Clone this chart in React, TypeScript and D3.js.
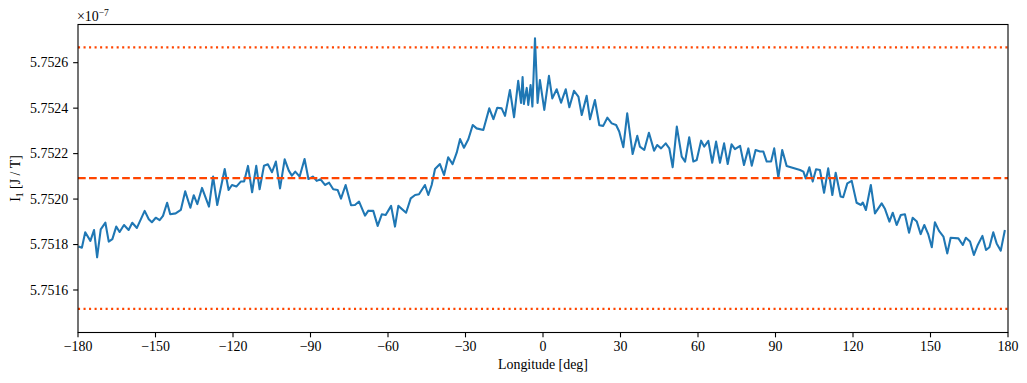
import React from "react";
import * as d3 from "d3";

const longitudes: number[] = [
  -179.8, -178.5, -177.2, -175.2, -173.8, -172.6, -171.2, -169.4, -168.1, -166.7,
  -165.2, -163.9, -162.2, -160.4, -159.0, -157.2, -154.2, -152.6, -151.4, -149.9,
  -148.4, -147.1, -145.5, -144.3, -142.2, -140.2, -138.5, -136.5, -135.2, -133.8,
  -132.0, -129.3, -127.7, -126.1, -123.2, -121.7, -120.4, -118.7, -117.0, -115.7,
  -114.2, -112.6, -111.0, -109.7, -108.0, -106.5, -104.9, -103.4, -101.8, -100.0,
  -98.4, -97.2, -95.9, -94.2, -92.3, -90.8, -89.1, -87.6, -86.1, -84.4,
  -82.8, -81.2, -79.5, -78.2, -76.4, -74.3, -72.8, -71.2, -68.9, -67.6,
  -65.7, -64.0, -62.4, -60.9, -58.8, -57.3, -56.0, -53.0, -51.2, -49.5,
  -48.0, -45.7, -44.4, -43.1, -41.8, -39.9, -38.3, -36.7, -35.0, -33.4,
  -32.1, -30.6, -28.9, -27.2, -25.7, -23.1, -20.8, -19.2, -17.7, -16.0,
  -14.7, -12.8, -11.2, -9.6, -8.5, -7.9, -7.4, -6.3, -5.7, -4.8,
  -4.1, -3.1, -2.1, -1.2, 0.5, 2.3, 3.6, 5.3, 7.0, 8.8,
  10.2, 12.0, 13.7, 15.0, 16.9, 18.2, 20.1, 21.8, 23.3, 24.9,
  26.6, 28.3, 29.5, 31.1, 32.6, 34.7, 36.5, 37.5, 39.2, 41.0,
  43.0, 44.2, 45.7, 47.5, 48.9, 50.2, 51.8, 53.7, 55.0, 56.6,
  58.2, 59.5, 61.2, 62.4, 64.0, 65.5, 67.0, 68.5, 70.1, 71.5,
  73.0, 74.3, 76.3, 77.8, 79.5, 80.8, 82.3, 84.0, 85.3, 86.6,
  88.3, 89.5, 91.1, 92.6, 94.3, 99.5, 100.8, 101.7, 103.1, 104.4,
  105.7, 107.2, 108.8, 110.4, 112.0, 113.3, 115.2, 116.2, 117.8, 119.5,
  121.4, 123.1, 123.8, 125.0, 126.9, 128.5, 131.1, 132.4, 134.1, 135.4,
  136.9, 138.5, 140.1, 141.7, 143.1, 144.7, 146.2, 147.6, 149.1, 150.5,
  151.7, 153.3, 155.0, 156.5, 157.8, 160.8, 162.5, 163.7, 165.3, 166.8,
  168.3, 170.1, 171.5, 172.8, 174.3, 175.6, 177.2, 178.8,
];

// I_1 values in units of 1e-7 J/T
const inertia: number[] = [
  5.751791, 5.751786, 5.751854, 5.751816, 5.751864, 5.751744, 5.751867, 5.751896, 5.751813, 5.751824,
  5.751879, 5.751855, 5.751886, 5.751864, 5.751896, 5.751873, 5.751948, 5.751911, 5.751898, 5.751918,
  5.751907, 5.751926, 5.751984, 5.751933, 5.751937, 5.751952, 5.752034, 5.751962, 5.752017, 5.751978,
  5.752049, 5.751967, 5.752099, 5.751974, 5.752132, 5.75204, 5.752062, 5.752055, 5.752077, 5.752077,
  5.752146, 5.75203, 5.752146, 5.752043, 5.752147, 5.752153, 5.752118, 5.752165, 5.752047, 5.752175,
  5.752125, 5.752103, 5.752121, 5.752099, 5.752176, 5.752088, 5.752099, 5.75208, 5.752087, 5.752062,
  5.752072, 5.752043, 5.75204, 5.752002, 5.752062, 5.751973, 5.751974, 5.751989, 5.751927, 5.751949,
  5.751948, 5.751882, 5.751933, 5.75193, 5.75197, 5.751879, 5.75197, 5.75194, 5.752003, 5.752018,
  5.752021, 5.752062, 5.752018, 5.752062, 5.752132, 5.752154, 5.752106, 5.752184, 5.752154, 5.752204,
  5.752264, 5.752226, 5.752263, 5.752326, 5.752311, 5.752304, 5.752399, 5.752352, 5.752402, 5.752399,
  5.752366, 5.75248, 5.75236, 5.75252, 5.752423, 5.752537, 5.752418, 5.752489, 5.752414, 5.752502,
  5.752407, 5.752707, 5.752423, 5.752524, 5.752392, 5.752542, 5.752443, 5.752483, 5.752424, 5.752483,
  5.752404, 5.752476, 5.752451, 5.75237, 5.752454, 5.752351, 5.752436, 5.752325, 5.752322, 5.752358,
  5.752333, 5.752326, 5.752297, 5.752228, 5.752377, 5.752198, 5.752278, 5.752231, 5.752216, 5.752292,
  5.752213, 5.752238, 5.752223, 5.752245, 5.752223, 5.75214, 5.752319, 5.752187, 5.752165, 5.752272,
  5.752165, 5.752172, 5.752257, 5.752231, 5.752256, 5.75216, 5.752253, 5.75216, 5.752245, 5.752154,
  5.752241, 5.75222, 5.752234, 5.75215, 5.752223, 5.752147, 5.752216, 5.752209, 5.752209, 5.752165,
  5.752165, 5.752223, 5.752094, 5.752216, 5.752146, 5.752128, 5.752121, 5.752091, 5.75214, 5.752077,
  5.752131, 5.752128, 5.752028, 5.752135, 5.752018, 5.752116, 5.752011, 5.752008, 5.752069, 5.75208,
  5.751984, 5.751974, 5.751985, 5.751952, 5.752062, 5.751937, 5.751981, 5.751956, 5.751901, 5.75194,
  5.751886, 5.75193, 5.751933, 5.751852, 5.751918, 5.751901, 5.751846, 5.751886, 5.751846, 5.751788,
  5.751898, 5.75186, 5.751835, 5.751761, 5.75183, 5.751827, 5.751798, 5.75183, 5.751813, 5.751754,
  5.751798, 5.751838, 5.751776, 5.751788, 5.751854, 5.751805, 5.751773, 5.751864,
];

const meanValue = 5.752092;
const relTolerance = 1e-4;
const xTicks: number[] = [-180, -150, -120, -90, -60, -30, 0, 30, 60, 90, 120, 150, 180];
const yTicks: number[] = [5.7516, 5.7518, 5.752, 5.7522, 5.7524, 5.7526];

const W = 1027;
const H = 383;
const left = 78;
const right = 1008;
const top = 24.5;
const bottom = 332.5;
const FONT = "'Liberation Serif', 'DejaVu Serif', serif";
const TICK = 4.86;

export default function App() {
  const x = d3.scaleLinear().domain([-180, 180]).range([left, right]);
  const y = d3.scaleLinear().domain([5.751413, 5.752768]).range([bottom, top]);
  const pts: [number, number][] = longitudes.map((l, i) => [l, inertia[i]]);
  const line = d3
    .line<[number, number]>()
    .x((d) => x(d[0]))
    .y((d) => y(d[1]));
  const upper = meanValue * (1 + relTolerance);
  const lower = meanValue * (1 - relTolerance);

  return (
    <svg
      width={W}
      height={H}
      style={{ position: "absolute", left: 0, top: 0, background: "#fff" }}
      fontFamily={FONT}
    >
      <rect x={0} y={0} width={W} height={H} fill="#fff" />
      <defs>
        <clipPath id="plotclip">
          <rect x={left} y={top} width={right - left} height={bottom - top} />
        </clipPath>
      </defs>
      <g clipPath="url(#plotclip)">
        <path d={line(pts) || ""} fill="none" stroke="#1f77b4" strokeWidth={2.08} strokeLinejoin="round" strokeLinecap="butt" />
        <line x1={left} x2={right} y1={y(meanValue)} y2={y(meanValue)} stroke="#ff4500" strokeWidth={2.08} strokeDasharray="7.7 3.33" />
        <line x1={left} x2={right} y1={y(upper)} y2={y(upper)} stroke="#ff4500" strokeWidth={2.08} strokeDasharray="2.08 3.44" />
        <line x1={left} x2={right} y1={y(lower)} y2={y(lower)} stroke="#ff4500" strokeWidth={2.08} strokeDasharray="2.08 3.44" />
      </g>
      <rect x={left} y={top} width={right - left} height={bottom - top} fill="none" stroke="#000" strokeWidth={1.1} />
      {xTicks.map((t) => (
        <g key={"x" + t}>
          <line x1={x(t)} x2={x(t)} y1={bottom} y2={bottom + TICK} stroke="#000" strokeWidth={1.1} />
          <text x={x(t)} y={351} fontSize={13.9} textAnchor="middle" fill="#000">
            {t < 0 ? "\u2212" + Math.abs(t) : String(t)}
          </text>
        </g>
      ))}
      {yTicks.map((t) => (
        <g key={"y" + t}>
          <line x1={left - TICK} x2={left} y1={y(t)} y2={y(t)} stroke="#000" strokeWidth={1.1} />
          <text x={left - 2 * TICK} y={y(t) + 4.8} fontSize={13.9} textAnchor="end" fill="#000">
            {t.toFixed(4)}
          </text>
        </g>
      ))}
      <text x={(left + right) / 2} y={368.5} fontSize={13.9} textAnchor="middle" fill="#000">
        Longitude [deg]
      </text>
      <text
        transform={`translate(20,${(top + bottom) / 2}) rotate(-90)`}
        fontSize={13.9}
        textAnchor="middle"
        fill="#000"
      >
        I<tspan fontSize={9.5} dy={3}>1</tspan>
        <tspan dy={-3}> [J / T]</tspan>
      </text>
      <text x={left - 1} y={20.5} fontSize={13.9} fill="#000">
        ×10<tspan fontSize={9.5} dy={-5}>−7</tspan>
      </text>
    </svg>
  );
}
